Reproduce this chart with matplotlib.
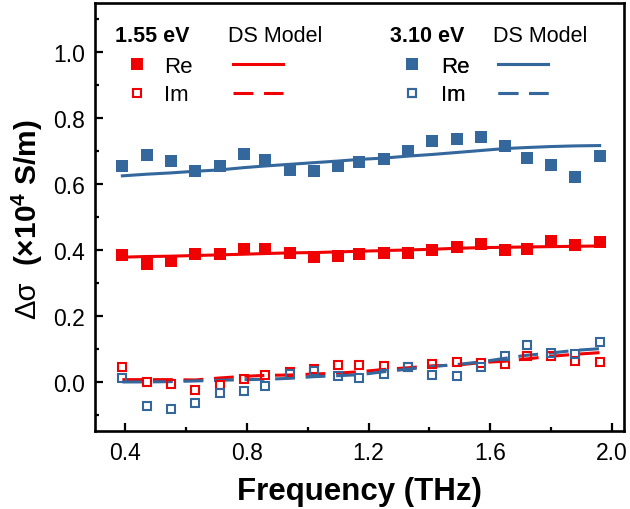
import matplotlib
matplotlib.use("Agg")
import matplotlib.pyplot as plt
from matplotlib.lines import Line2D
from matplotlib.ticker import MultipleLocator

plt.rcParams['font.family'] = ['Liberation Sans', 'DejaVu Sans']
plt.rcParams['mathtext.fontset'] = 'custom'
plt.rcParams['mathtext.rm'] = 'Liberation Sans:bold'
plt.rcParams['mathtext.default'] = 'rm'

# Frequency axis (THz)
freq = [0.39, 0.47, 0.55, 0.63, 0.71, 0.79, 0.86, 0.94, 1.02, 1.10, 1.17,
        1.25, 1.33, 1.41, 1.49, 1.57, 1.65, 1.72, 1.80, 1.88, 1.96]

# Measured photoconductivity, 1.55 eV pump (x10^4 S/m)
re_155 = [0.384, 0.356, 0.366, 0.387, 0.387, 0.402, 0.404, 0.392, 0.380, 0.381, 0.388,
          0.392, 0.392, 0.399, 0.410, 0.417, 0.399, 0.404, 0.427, 0.414, 0.424]
im_155 = [0.044, -0.001, -0.006, -0.024, -0.011, 0.008, 0.019, 0.030, 0.038, 0.050, 0.051,
          0.047, 0.043, 0.052, 0.060, 0.058, 0.054, 0.079, 0.077, 0.062, 0.060]

# Measured photoconductivity, 3.10 eV pump (x10^4 S/m)
re_310 = [0.654, 0.688, 0.671, 0.639, 0.656, 0.691, 0.674, 0.644, 0.641, 0.656, 0.668,
          0.675, 0.701, 0.730, 0.737, 0.742, 0.717, 0.678, 0.658, 0.620, 0.686]
im_310 = [0.011, -0.073, -0.083, -0.065, -0.035, -0.030, -0.012, 0.022, 0.031, 0.018, 0.010,
          0.024, 0.044, 0.021, 0.016, 0.045, 0.079, 0.110, 0.087, 0.085, 0.120]

# Drude-Smith model fits
ds_re_155 = [0.378, 0.380, 0.381, 0.383, 0.385, 0.387, 0.389, 0.391, 0.392, 0.394, 0.396,
             0.398, 0.400, 0.402, 0.405, 0.407, 0.408, 0.409, 0.410, 0.411, 0.412]
ds_im_155 = [0.006, 0.006, 0.006, 0.005, 0.011, 0.016, 0.019, 0.020, 0.023, 0.026, 0.030,
             0.037, 0.042, 0.048, 0.050, 0.058, 0.062, 0.069, 0.077, 0.083, 0.088]
ds_re_310 = [0.625, 0.630, 0.634, 0.639, 0.643, 0.650, 0.655, 0.660, 0.665, 0.670, 0.675,
             0.679, 0.685, 0.690, 0.696, 0.702, 0.708, 0.711, 0.714, 0.716, 0.717]
ds_im_310 = [-0.001, -0.001, 0.000, 0.002, 0.004, 0.006, 0.007, 0.010, 0.015, 0.018, 0.021,
             0.030, 0.038, 0.046, 0.052, 0.060, 0.071, 0.080, 0.087, 0.095, 0.100]

RED = '#f00000'
BLUE = '#34679c'
LW = 2.2
DASH = (0, (6.5, 3.5))
MS_FILL = 9
MS_OPEN = 6.2
MEW_OPEN = 1.5

fig = plt.figure(figsize=(6.3, 5.1), dpi=100)
ax = fig.add_axes([95 / 630, 78 / 510, 529 / 630, 428 / 510])

# model curves
ax.plot(freq, ds_re_155, color=RED, lw=LW, zorder=2)
ax.plot(freq, ds_im_155, color=RED, lw=LW, ls=DASH, zorder=2)
ax.plot(freq, ds_re_310, color=BLUE, lw=LW, zorder=2)
ax.plot(freq, ds_im_310, color=BLUE, lw=LW, ls=DASH, zorder=2)

# measured points
ax.plot(freq, re_155, ls='none', marker='s', ms=MS_FILL, mew=0, color=RED, zorder=3)
ax.plot(freq, im_155, ls='none', marker='s', ms=MS_OPEN, mew=MEW_OPEN,
        mfc='none', mec=RED, zorder=3)
ax.plot(freq, re_310, ls='none', marker='s', ms=MS_FILL, mew=0, color=BLUE, zorder=3)
ax.plot(freq, im_310, ls='none', marker='s', ms=MS_OPEN, mew=MEW_OPEN,
        mfc='none', mec=BLUE, zorder=3)

ax.set_xlim(0.30, 2.04)
ax.set_ylim(-0.15, 1.15)
ax.xaxis.set_major_locator(MultipleLocator(0.4))
ax.xaxis.set_minor_locator(MultipleLocator(0.2))
ax.yaxis.set_major_locator(MultipleLocator(0.2))
ax.yaxis.set_minor_locator(MultipleLocator(0.1))
ax.set_xticks([0.4, 0.8, 1.2, 1.6, 2.0])
ax.set_xticklabels(['0.4', '0.8', '1.2', '1.6', '2.0'])
ax.set_yticks([0.0, 0.2, 0.4, 0.6, 0.8, 1.0])
ax.set_yticklabels(['0.0', '0.2', '0.4', '0.6', '0.8', '1.0'])

for s in ax.spines.values():
    s.set_linewidth(1.9)
ax.tick_params(which='both', direction='in', width=1.6, labelsize=16.5,
               top=False, right=False)
ax.tick_params(which='major', length=6)
ax.tick_params(which='minor', length=3)
ax.tick_params(axis='x', pad=7)
ax.tick_params(axis='y', pad=7)

ax.set_xlabel('Frequency (THz)', fontsize=22.5, fontweight='bold', labelpad=9)

# y label: regular delta-sigma followed by bold unit
fig.text(27 / 630, 1 - 300 / 510, 'Δσ', rotation=90, fontsize=21,
         ha='center', va='center')
fig.text(27 / 630, 1 - 193 / 510, '(×10$^{4}$ S/m)', rotation=90, fontsize=21.5,
         fontweight='bold', ha='center', va='center')


def key_legend(color, anchor, textpad, colspace):
    handles = [
        Line2D([], [], ls='none', marker='s', ms=MS_FILL, mew=0, color=color),
        Line2D([], [], ls='none', marker='s', ms=MS_OPEN, mew=MEW_OPEN,
               mfc='none', mec=color),
        Line2D([], [], color=color, lw=LW),
        Line2D([], [], color=color, lw=LW, ls=DASH),
    ]
    leg = ax.legend(handles, ['Re', 'Im', '', ''], ncol=2, frameon=False,
                    loc='upper left', bbox_to_anchor=anchor, fontsize=16,
                    handlelength=2.25, handletextpad=0.08 + textpad,
                    columnspacing=colspace, labelspacing=0.33,
                    borderpad=0, borderaxespad=0, numpoints=1)
    ax.add_artist(leg)
    return leg


key_legend(RED, (0.032, 0.876), 0.0, 1.85)
key_legend(BLUE, (0.552, 0.876), 0.12, 1.25)

ax.text(0.038, 0.923, '1.55 eV', transform=ax.transAxes, fontsize=15.5,
        fontweight='bold', ha='left', va='center')
ax.text(0.251, 0.923, 'DS Model', transform=ax.transAxes, fontsize=15.5,
        ha='left', va='center')
ax.text(0.558, 0.923, '3.10 eV', transform=ax.transAxes, fontsize=15.5,
        fontweight='bold', ha='left', va='center')
ax.text(0.752, 0.923, 'DS Model', transform=ax.transAxes, fontsize=15.5,
        ha='left', va='center')

fig.savefig('out.png', dpi=100)
